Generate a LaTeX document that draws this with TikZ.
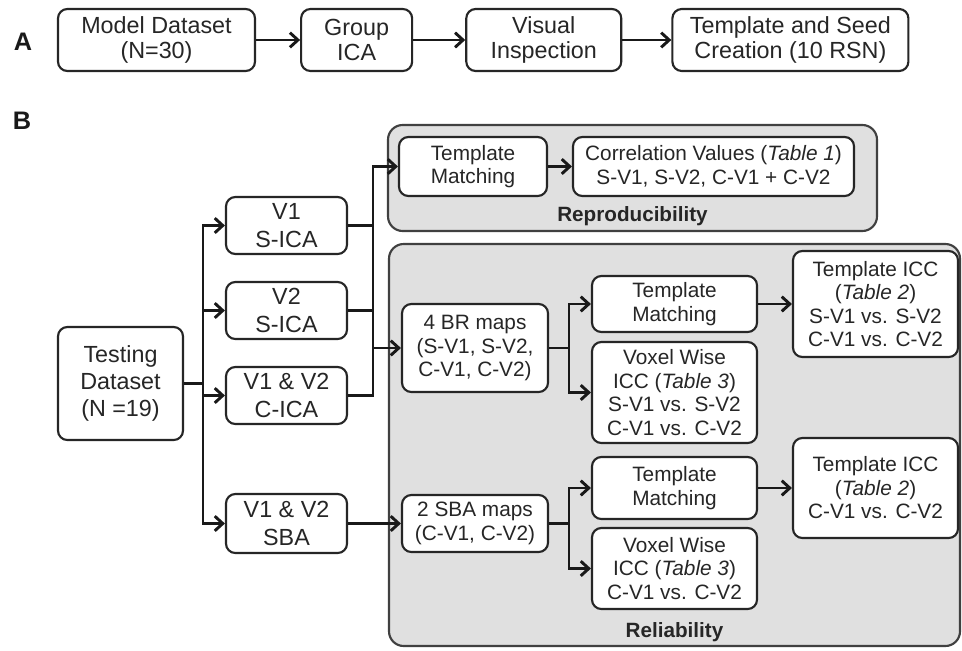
\documentclass[tikz,border=0pt]{standalone}
\usepackage{fontspec}
\setmainfont{Liberation Sans}
\usetikzlibrary{arrows.meta, positioning}

\begin{document}
\begin{tikzpicture}[
  x=0.75pt, y=-0.75pt,
  box/.style={rectangle, draw=black!85, line width=1.6pt, fill=white, rounded corners=7pt, align=center, inner sep=0pt, text=black!85},
  stage/.style={box, font=\fontsize{17.5}{19}\selectfont, minimum height=46.5pt},
  source/.style={box, font=\fontsize{17.5}{20.5}\selectfont, minimum width=90.75pt, minimum height=42.75pt},
  result/.style={box, font=\fontsize{15.6}{17.6}\selectfont, minimum width=123.75pt},
  group/.style={draw=black!75, line width=1.6pt, fill=black!12, rounded corners=11pt},
  grouplabel/.style={font=\fontsize{15.5}{18}\selectfont\bfseries, text=black!85},
  panel/.style={font=\fontsize{19}{22}\selectfont\bfseries, text=black!90},
  wire/.style={line width=2.2pt, draw=black!90},
  arrow/.style={wire, -{Straight Barb[length=6pt, width=11pt]}}
]
\useasboundingbox (0,0) rectangle (962,650);

% Panel labels
\node[panel] (labelA) at (23,42) {A};
\node[panel] (labelB) at (22,121) {B};

% Group boxes
\coordinate (repro-nw) at (388,125);
\coordinate (repro-se) at (877,231);
\draw[group] (repro-nw) rectangle (repro-se);
\node[grouplabel] (reprolabel) at (632.5,216) {Reproducibility};

\coordinate (reli-nw) at (389,244);
\coordinate (reli-se) at (960,646);
\draw[group] (reli-nw) rectangle (reli-se);
\node[grouplabel] (relilabel) at (674.5,632) {Reliability};

% Panel A nodes
\node[stage, minimum width=147.75pt] (model) at (156.5,40) {Model Dataset\\(N=30)};
\node[stage, minimum width=83.25pt, right=33pt of model] (groupica) {Group\\ICA};
\node[stage, minimum width=116.25pt, right=39pt of groupica] (visual) {Visual\\Inspection};
\node[stage, minimum width=177pt, right=36.75pt of visual] (seed) {Template and Seed\\Creation (10 RSN)};

% Panel B input nodes
\node[source, minimum width=93.75pt, minimum height=84.75pt] (testing) at (120.5,383.5) {Testing\\Dataset\\(N =19)};
\node[source] (v1) at (286.5,225.5) {V1\\S-ICA};
\node[source] (v2) at (286.5,310.5) {V2\\S-ICA};
\node[source] (cica) at (286.5,395.5) {V1 \& V2\\C-ICA};
\node[source, minimum height=44.25pt] (sba) at (286.5,523.5) {V1 \& V2\\SBA};

% Reproducibility nodes
\node[result, minimum width=111pt, minimum height=44.25pt] (tmrepro) at (473,166.5) {Template\\Matching};
\node[result, minimum width=210.75pt, minimum height=44.25pt] (corr) at (713.5,166.5) {Correlation Values (\textit{Table 1})\\S-V1, S-V2, C-V1 + C-V2};

% Reliability nodes
\node[result, minimum width=109.5pt, minimum height=66pt] (brmaps) at (475,348) {4 BR maps\\(S-V1, S-V2,\\C-V1, C-V2)};
\node[result, minimum height=42pt] (tmbr) at (674.5,304) {Template\\Matching};
\node[result, minimum height=75.75pt] (voxbr) at (674.5,392.5) {Voxel Wise\\ICC (\textit{Table 3})\\S-V1 vs. S-V2\\C-V1 vs. C-V2};
\node[result, minimum height=79.5pt] (iccbr) at (875.5,304) {Template ICC\\(\textit{Table 2})\\S-V1 vs. S-V2\\C-V1 vs. C-V2};

\node[result, minimum width=109.5pt, minimum height=42.75pt] (sbamaps) at (475,523.5) {2 SBA maps\\(C-V1, C-V2)};
\node[result, minimum height=46.5pt] (tmsba) at (674.5,488) {Template\\Matching};
\node[result, minimum height=60.75pt] (voxsba) at (674.5,568.5) {Voxel Wise\\ICC (\textit{Table 3})\\C-V1 vs. C-V2};
\node[result, minimum height=75pt] (iccsba) at (875.5,488) {Template ICC\\(\textit{Table 2})\\C-V1 vs. C-V2};

% Junctions
\coordinate (split) at (203,383.5);
\coordinate (merge) at (373,225.5);
\coordinate (brsplit) at (569,348);
\coordinate (sbasplit) at (569,523.5);

% Arrows
\draw[arrow] (model) -- (groupica);
\draw[arrow] (groupica) -- (visual);
\draw[arrow] (visual) -- (seed);

\draw[wire] (testing.east) -- (split);
\draw[arrow] (split) |- (v1.west);
\draw[arrow] (split) |- (v2.west);
\draw[arrow] (split) |- (cica.west);
\draw[arrow] (split) |- (sba.west);

\draw[arrow] (v1.east) -- (merge) |- (tmrepro.west);
\draw[wire] (v2.east) -| (merge);
\draw[wire] (cica.east) -| (merge);
\draw[arrow] (merge |- brmaps.west) -- (brmaps.west);
\draw[arrow] (tmrepro) -- (corr);

\draw[wire] (brmaps.east) -- (brsplit);
\draw[arrow] (brsplit) |- (tmbr.west);
\draw[arrow] (brsplit) |- (voxbr.west);
\draw[arrow] (tmbr) -- (iccbr);

\draw[arrow] (sba) -- (sbamaps);
\draw[wire] (sbamaps.east) -- (sbasplit);
\draw[arrow] (sbasplit) |- (tmsba.west);
\draw[arrow] (sbasplit) |- (voxsba.west);
\draw[arrow] (tmsba) -- (iccsba);

\end{tikzpicture}
\end{document}
